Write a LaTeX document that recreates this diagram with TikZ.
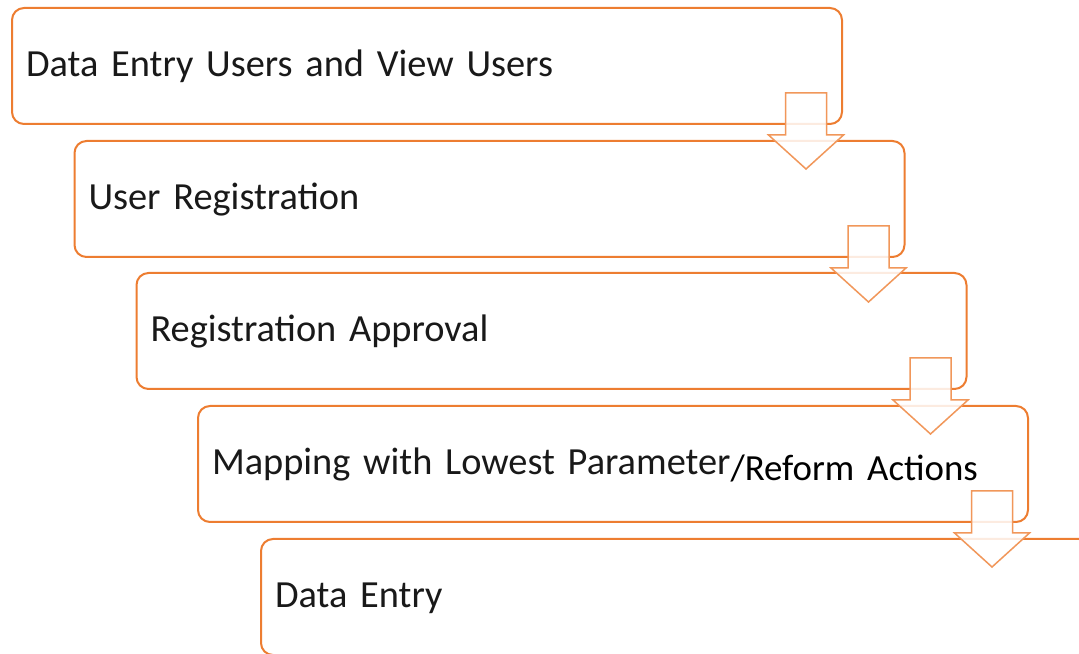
\documentclass[tikz,border=0pt]{standalone}
\usepackage{fontspec}
\setmainfont{Carlito}
\usetikzlibrary{calc}
\definecolor{stepline}{HTML}{ED7D31}
\tikzset{
  stepbox/.style={draw=stepline,line width=2bp,rounded corners=12bp,fill=white,
    minimum width=830bp,minimum height=116bp,outer sep=0pt,inner xsep=14bp,
    text width=802bp,align=left,text height=22bp,text depth=0bp,
    font=\fontsize{38.5}{46}\selectfont,text=black!90},
  downarrow/.style={draw=stepline!80,line width=1.5bp,fill=white,fill opacity=0.85,line join=miter},
}
\begin{document}
\begin{tikzpicture}[>=latex,line join=bevel,]
%%
\path[use as bounding box,clip] (0bp,0bp) rectangle (1079bp,654bp);
\node (node_0) at (427.0bp,588.0bp) [stepbox] {Data Entry Users and View Users};
  \node (node_1) at (489.5bp,455.0bp) [stepbox] {User Registration};
  \node (node_2) at (551.5bp,323.0bp) [stepbox] {Registration Approval};
  \node (node_3) at (613.0bp,190.0bp) [stepbox] {Mapping with Lowest Parameter\raisebox{-6bp}{\fontsize{37}{42}\selectfont\color{black}/Reform Actions}};
  \node (node_4) at (676.0bp,57.0bp) [stepbox] {Data Entry};
%
  \draw [downarrow] ($(node_0.south east)+(-56.5bp,31bp)$) -- ++(41bp,0bp) -- ++(0bp,-42bp) -- ++(17bp,0bp) -- ($(node_0.south east)+(-36bp,-45bp)$) -- ($(node_0.south east)+(-73.5bp,-11bp)$) -- ++(17bp,0bp) -- cycle;
  \draw [downarrow] ($(node_1.south east)+(-56.5bp,31bp)$) -- ++(41bp,0bp) -- ++(0bp,-42bp) -- ++(17bp,0bp) -- ($(node_1.south east)+(-36bp,-45bp)$) -- ($(node_1.south east)+(-73.5bp,-11bp)$) -- ++(17bp,0bp) -- cycle;
  \draw [downarrow] ($(node_2.south east)+(-56.5bp,31bp)$) -- ++(41bp,0bp) -- ++(0bp,-42bp) -- ++(17bp,0bp) -- ($(node_2.south east)+(-36bp,-45bp)$) -- ($(node_2.south east)+(-73.5bp,-11bp)$) -- ++(17bp,0bp) -- cycle;
  \draw [downarrow] ($(node_3.south east)+(-56.5bp,31bp)$) -- ++(41bp,0bp) -- ++(0bp,-42bp) -- ++(17bp,0bp) -- ($(node_3.south east)+(-36bp,-45bp)$) -- ($(node_3.south east)+(-73.5bp,-11bp)$) -- ++(17bp,0bp) -- cycle;
%
\end{tikzpicture}
\end{document}
